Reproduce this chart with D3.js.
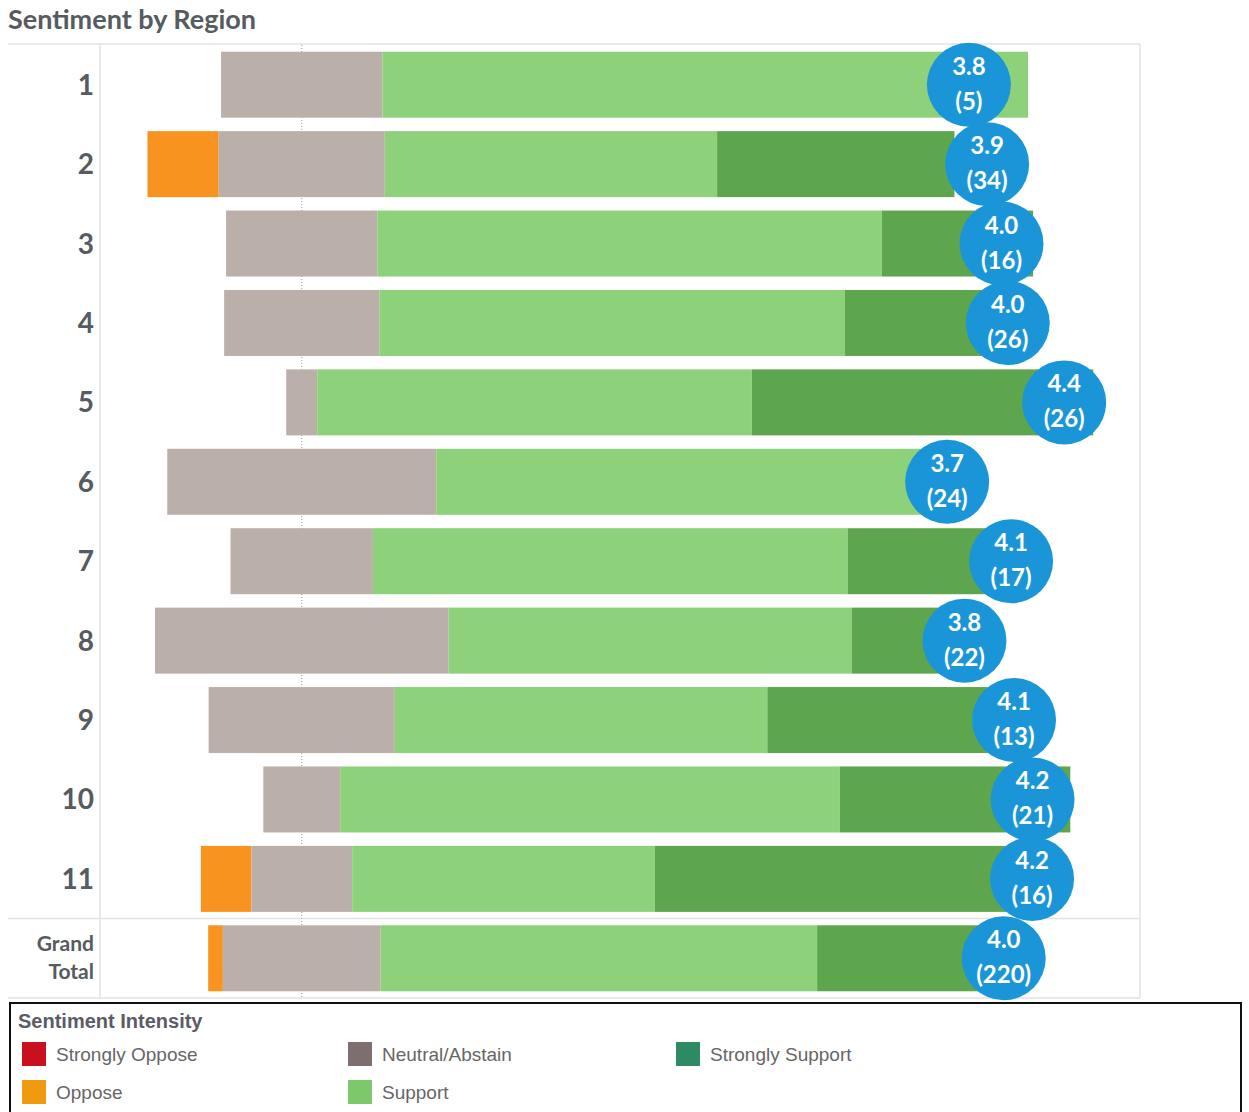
<!DOCTYPE html>
<html>
<head>
<meta charset="utf-8">
<script src="https://cdn.jsdelivr.net/npm/d3@7"></script>
<style>
  body { margin: 0; background: #fff; }
  svg { display: block; }
</style>
</head>
<body>
<div id="chart"></div>
<script>
// response counts per region, one array per sentiment level
const regions = ['1', '2', '3', '4', '5', '6', '7', '8', '9', '10', '11', 'Grand Total'];
const stronglyOppose = [0, 0, 0, 0, 0, 0, 0, 0, 0, 0, 0, 0];
const oppose = [0, 3, 0, 0, 0, 0, 0, 0, 0, 0, 1, 4];
const neutral = [1, 7, 3, 5, 1, 8, 3, 8, 3, 2, 2, 43];
const support = [4, 14, 10, 15, 14, 16, 10, 11, 6, 13, 6, 119];
const stronglySupport = [0, 10, 3, 6, 11, 0, 4, 3, 4, 6, 7, 54];
const avgScore = [3.8, 3.9, 4.0, 4.0, 4.4, 3.7, 4.1, 3.8, 4.1, 4.2, 4.2, 4.0];
const responses = [5, 34, 16, 26, 26, 24, 17, 22, 13, 21, 16, 220];

const legendLabels = ['Strongly Oppose', 'Oppose', 'Neutral/Abstain', 'Support', 'Strongly Support'];
const barColors = ['#c8101e', '#f7931e', '#bbb0a9', '#8ed17b', '#5ea64d'];
const legendColors = ['#c8101e', '#f09a12', '#7e6e6f', '#7dc86b', '#2e8a63'];

const W = 1249, H = 1112;
const svg = d3.select('#chart').append('svg')
  .attr('width', W)
  .attr('height', H);

svg.append('text')
  .attr('x', 8)
  .attr('y', 29)
  .attr('font-family', 'Lato, sans-serif')
  .attr('font-weight', 'bold')
  .attr('font-size', 27)
  .attr('fill', '#555b60')
  .text('Sentiment by Region');

const plotTop = 45, plotBottom = 998, plotLeft = 100, plotRight = 1140;

// percent scale, zero sits in the middle of the neutral block
const x = d3.scaleLinear().domain([-25, 104]).range([plotLeft, plotRight + 1]);
// bubbles sit on a score axis (1 = strongly oppose .. 5 = strongly support)
const score = d3.scaleLinear().domain([3.5, 4.5]).range([920, 1083]);
const y = d3.scalePoint().domain(regions).range([plotTop, plotBottom]).padding(0.5);
const barH = 66;

// grid lines
const grid = svg.append('g').attr('stroke', '#e2e2e2').attr('stroke-width', 1.5);
grid.append('line').attr('x1', 8).attr('x2', plotRight).attr('y1', plotTop - 1).attr('y2', plotTop - 1);
grid.append('line').attr('x1', plotLeft).attr('x2', plotLeft).attr('y1', plotTop - 1).attr('y2', plotBottom);
grid.append('line').attr('x1', plotRight).attr('x2', plotRight).attr('y1', plotTop - 1).attr('y2', plotBottom);
const sepY = (y('11') + y('Grand Total')) / 2;
grid.append('line').attr('x1', 8).attr('x2', plotRight).attr('y1', sepY).attr('y2', sepY);
grid.append('line').attr('x1', 8).attr('x2', plotRight).attr('y1', plotBottom).attr('y2', plotBottom);

svg.append('line')
  .attr('x1', x(0)).attr('x2', x(0))
  .attr('y1', plotTop).attr('y2', plotBottom)
  .attr('stroke', '#999')
  .attr('stroke-width', 1)
  .attr('stroke-dasharray', '1,2');

// build stacked segments
const rows = regions.map((r, i) => {
  const counts = [stronglyOppose[i], oppose[i], neutral[i], support[i], stronglySupport[i]];
  const total = d3.sum(counts);
  const pct = counts.map(c => c / total * 100);
  const mean = d3.sum(counts, (c, k) => c * (k + 1)) / total;
  let start = -pct[2] / 2 - pct[1] - pct[0];
  const segs = pct.map((p, k) => {
    const s = { region: r, k, x0: start, x1: start + p };
    start += p;
    return s;
  }).filter(s => s.x1 > s.x0);
  return { region: r, segs, mean, label: avgScore[i].toFixed(1), n: responses[i] };
});

svg.append('g').selectAll('g')
  .data(rows)
  .join('g')
  .selectAll('rect')
  .data(d => d.segs)
  .join('rect')
  .attr('x', d => x(d.x0))
  .attr('width', d => x(d.x1) - x(d.x0))
  .attr('y', d => y(d.region) - barH / 2)
  .attr('height', barH)
  .attr('fill', d => barColors[d.k]);

// row labels
const labels = svg.append('g')
  .attr('font-family', 'Lato, sans-serif')
  .attr('font-weight', 'bold')
  .attr('fill', '#555b60')
  .attr('text-anchor', 'end');

labels.selectAll('text.num')
  .data(regions.filter(r => r !== 'Grand Total'))
  .join('text')
  .attr('class', 'num')
  .attr('x', 94)
  .attr('y', d => y(d) + 10)
  .attr('font-size', 28)
  .text(d => d);

labels.selectAll('text.gt')
  .data(['Grand', 'Total'])
  .join('text')
  .attr('class', 'gt')
  .attr('x', 94)
  .attr('y', (d, i) => y('Grand Total') - 7 + i * 28)
  .attr('font-size', 21)
  .text(d => d);

// score bubbles
const bubbles = svg.append('g').selectAll('g')
  .data(rows)
  .join('g')
  .attr('transform', d => `translate(${score(d.mean)},${y(d.region)})`);

bubbles.append('circle')
  .attr('r', 42)
  .attr('fill', '#1a96d8');

bubbles.append('text')
  .attr('text-anchor', 'middle')
  .attr('font-family', 'Lato, sans-serif')
  .attr('font-weight', 'bold')
  .attr('font-size', 24)
  .attr('fill', '#fff')
  .selectAll('tspan')
  .data(d => [d.label, `(${d.n})`])
  .join('tspan')
  .attr('x', 0)
  .attr('y', (d, i) => i ? 25 : -10)
  .text(d => d);

// legend
const lg = svg.append('g');
lg.append('rect')
  .attr('x', 10).attr('y', 1003)
  .attr('width', 1231).attr('height', 120)
  .attr('fill', '#fff')
  .attr('stroke', '#111')
  .attr('stroke-width', 2);

lg.append('text')
  .attr('x', 18).attr('y', 1028)
  .attr('font-family', 'Liberation Sans, Arial, sans-serif')
  .attr('font-weight', 'bold')
  .attr('font-size', 20)
  .attr('fill', '#5c5c66')
  .text('Sentiment Intensity');

const legendPos = [[22, 1042], [22, 1080], [348, 1042], [348, 1080], [676, 1042]];
const items = lg.selectAll('g.item')
  .data(legendLabels)
  .join('g')
  .attr('class', 'item')
  .attr('transform', (d, i) => `translate(${legendPos[i][0]},${legendPos[i][1]})`);

items.append('rect')
  .attr('width', 24).attr('height', 24)
  .attr('fill', (d, i) => legendColors[i]);

items.append('text')
  .attr('x', 34).attr('y', 19)
  .attr('font-family', 'Liberation Sans, Arial, sans-serif')
  .attr('font-size', 19)
  .attr('fill', '#666')
  .text(d => d);
</script>
</body>
</html>
